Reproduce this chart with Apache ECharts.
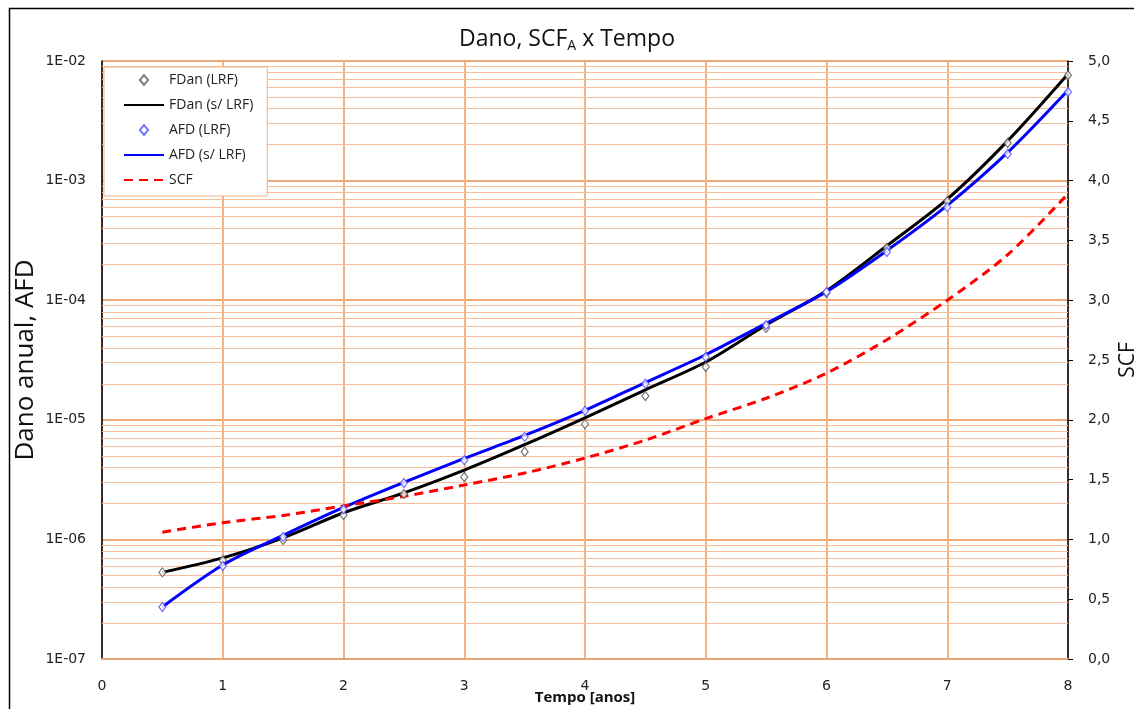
<!DOCTYPE html>
<html>
<head>
<meta charset="utf-8">
<title>Dano, SCF x Tempo</title>
<script src="https://cdn.jsdelivr.net/npm/echarts@6/dist/echarts.min.js"></script>
<style>
	html, body { margin: 0; padding: 0; background: #fff; }
	#danoChart { width: 1134px; height: 709px; }
</style>
</head>
<body>
<div id="danoChart"></div>
<script>
// tempo [anos]
var tempo = [0.5, 1, 1.5, 2, 2.5, 3, 3.5, 4, 4.5, 5, 5.5, 6, 6.5, 7, 7.5, 8];
// FDan (LRF) - marcadores
var fdanLrf = [5.3e-7, 6.7e-7, 9.9e-7, 1.6e-6, 2.4e-6, 3.33e-6, 5.4e-6, 9.2e-6, 1.58e-5, 2.76e-5, 5.85e-5, 1.15e-4, 2.73e-4, 6.75e-4, 2.06e-3, 7.6e-3];
// FDan (s/ LRF) - linha
var fdanSemLrf = [5.3e-7, 7.0e-7, 1.03e-6, 1.67e-6, 2.45e-6, 3.8e-6, 6.2e-6, 1.04e-5, 1.78e-5, 3.04e-5, 6.2e-5, 1.2e-4, 2.85e-4, 7.0e-4, 2.15e-3, 7.8e-3];
// AFD (LRF) - marcadores
var afdLrf = [2.72e-7, 6.0e-7, 1.05e-6, 1.79e-6, 2.96e-6, 4.6e-6, 7.2e-6, 1.19e-5, 2.0e-5, 3.35e-5, 6.2e-5, 1.17e-4, 2.53e-4, 6.0e-4, 1.67e-3, 5.5e-3];
// AFD (s/ LRF) - linha
var afdSemLrf = [2.72e-7, 6.1e-7, 1.08e-6, 1.85e-6, 3.0e-6, 4.75e-6, 7.4e-6, 1.2e-5, 2.05e-5, 3.5e-5, 6.4e-5, 1.18e-4, 2.6e-4, 6.2e-4, 1.72e-3, 5.7e-3];
// SCF (eixo direito)
var scf = [1.06, 1.14, 1.2, 1.28, 1.36, 1.455, 1.555, 1.68, 1.83, 2.01, 2.18, 2.39, 2.67, 3.0, 3.38, 3.89];
// eixos
var xMin = 0, xMax = 8;
// linhas de grade secundárias (escala log): 2..9 x 10^e
var minorMult = [2, 3, 4, 5, 6, 7, 8, 9];
var decades = [-7, -6, -5, -4, -3];

var myChart;
var fontName = '"Open Sans", "Noto Sans", sans-serif';
var tickFont = '"DejaVu Sans", Verdana, sans-serif';
var diamondIcon = 'path://M4,0 L8,5 L4,10 L0,5 Z';

function pairs(ys) {
	var out = [];
	for (var i = 0; i < tempo.length; i++) {
		out.push([tempo[i], ys[i]]);
	}
	return out;
}

function logLabel(v) {
	var e = Math.round(Math.log10(v));
	var a = Math.abs(e);
	return '1E' + (e < 0 ? '-' : '+') + (a < 10 ? '0' + a : a);
}

function minorLines() {
	var lst = [];
	for (var i = 0; i < decades.length; i++) {
		for (var j = 0; j < minorMult.length; j++) {
			var v = minorMult[j] * Math.pow(10, decades[i]);
			lst.push({ coords: [[xMin, v], [xMax, v]] });
		}
	}
	return lst;
}

// linha sem símbolo na legenda
var noSymbol = { color: 'rgba(0,0,0,0)', borderWidth: 0, opacity: 0 };

function chartInit() {
	myChart = echarts.init(document.getElementById('danoChart'), null, { renderer: 'canvas' });
	var option = {
		animation: false,
		backgroundColor: '#fff',
		textStyle: { fontFamily: fontName },
		graphic: [{
			type: 'rect',
			left: 7, top: 6,
			shape: { width: 1200, height: 800 },
			style: { fill: 'none', stroke: '#000', lineWidth: 1.5 },
			silent: true
		}],
		title: {
			text: '{a|Dano, SCF}{s|A}{a| x Tempo}',
			left: 'center',
			top: 20,
			textStyle: {
				fontWeight: 'normal',
				rich: {
					a: { fontSize: 23, color: '#111', fontFamily: fontName, fontWeight: 'normal', lineHeight: 28 },
					s: { fontSize: 14, color: '#111', fontFamily: fontName, fontWeight: 'normal', lineHeight: 28, verticalAlign: 'bottom', padding: [13, 0, 0, 0] }
				}
			}
		},
		legend: {
			orient: 'vertical',
			left: 104,
			top: 67,
			itemWidth: 40,
			itemHeight: 10,
			itemGap: 11,
			padding: [6, 14, 9, 19],
			backgroundColor: '#fff',
			borderColor: '#f4b183',
			borderWidth: 1,
			textStyle: { fontSize: 14, color: '#222', fontFamily: fontName },
			data: [
				{ name: 'FDan (LRF)', icon: diamondIcon },
				{ name: 'FDan (s/ LRF)', itemStyle: noSymbol },
				{ name: 'AFD (LRF)', icon: diamondIcon },
				{ name: 'AFD (s/ LRF)', itemStyle: noSymbol },
				{ name: 'SCF', itemStyle: noSymbol }
			]
		},
		grid: {
			left: 102,
			right: 66,
			top: 61,
			bottom: 50,
			containLabel: false,
			outerBoundsMode: 'none'
		},
		xAxis: [{
			type: 'value',
			min: xMin,
			max: xMax,
			interval: 1,
			name: 'Tempo [anos]',
			nameLocation: 'middle',
			nameGap: 31,
			nameMoveOverlap: false,
			nameTextStyle: { fontSize: 15, fontWeight: 'bold', color: '#111' },
			axisLine: { lineStyle: { color: '#e9a374', width: 2 } },
			axisTick: { show: false },
			axisLabel: { fontSize: 14, color: '#222', margin: 20, fontFamily: tickFont },
			splitLine: { show: true, lineStyle: { color: '#f4b183', width: 2 } }
		}],
		yAxis: [{
			type: 'log',
			logBase: 10,
			min: 1e-7,
			max: 1e-2,
			splitNumber: 5,
			name: 'Dano anual, AFD',
			nameLocation: 'middle',
			nameRotate: 90,
			nameGap: 63,
			nameMoveOverlap: false,
			nameTextStyle: { fontSize: 26, color: '#111' },
			axisLine: { show: true, lineStyle: { color: '#000', width: 1.5 } },
			axisTick: { show: false },
			axisLabel: { fontSize: 14, color: '#222', margin: 16, fontFamily: tickFont, formatter: logLabel },
			splitLine: { show: true, lineStyle: { color: '#f0a878', width: 2 } }
		}, {
			type: 'value',
			min: 0,
			max: 5,
			interval: 0.5,
			position: 'right',
			name: 'SCF',
			nameLocation: 'middle',
			nameRotate: 90,
			nameGap: 50,
			nameMoveOverlap: false,
			nameTextStyle: { fontSize: 21, color: '#111' },
			axisLine: { show: true, lineStyle: { color: '#000', width: 1.5 } },
			axisTick: { show: true, inside: false, length: 5, lineStyle: { color: '#000' } },
			axisLabel: {
				fontSize: 14, color: '#222', margin: 20, fontFamily: tickFont,
				formatter: function(v) { return v.toFixed(1).replace('.', ','); }
			},
			splitLine: { show: false }
		}],
		series: [{
			// grade secundária do eixo log
			name: 'grade',
			type: 'lines',
			coordinateSystem: 'cartesian2d',
			silent: true,
			z: 1,
			lineStyle: { color: '#f5bd98', width: 1.2, opacity: 1 },
			data: minorLines()
		}, {
			name: 'FDan (s/ LRF)',
			type: 'line',
			smooth: 0.3,
			showSymbol: false,
			symbol: 'none',
			lineStyle: { color: '#000', width: 3 },
			itemStyle: { color: '#000' },
			data: pairs(fdanSemLrf),
			z: 3
		}, {
			name: 'AFD (s/ LRF)',
			type: 'line',
			smooth: 0.3,
			showSymbol: false,
			symbol: 'none',
			lineStyle: { color: '#0000ff', width: 3 },
			itemStyle: { color: '#0000ff' },
			data: pairs(afdSemLrf),
			z: 3
		}, {
			name: 'SCF',
			type: 'line',
			yAxisIndex: 1,
			smooth: 0.3,
			showSymbol: false,
			symbol: 'none',
			lineStyle: { color: '#ff0000', width: 3, type: [9, 6] },
			itemStyle: { color: '#ff0000' },
			data: pairs(scf),
			z: 3
		}, {
			name: 'FDan (LRF)',
			type: 'scatter',
			symbol: 'diamond',
			symbolSize: [7, 9],
			itemStyle: { color: '#fff', borderColor: '#555', borderWidth: 1.2 },
			data: pairs(fdanLrf),
			z: 5
		}, {
			name: 'AFD (LRF)',
			type: 'scatter',
			symbol: 'diamond',
			symbolSize: [7, 9],
			itemStyle: { color: '#fff', borderColor: '#4a4aff', borderWidth: 1.2 },
			data: pairs(afdLrf),
			z: 5
		}]
	};
	myChart.setOption(option);
	window.onresize = myChart.resize;
}

chartInit();
</script>
</body>
</html>
